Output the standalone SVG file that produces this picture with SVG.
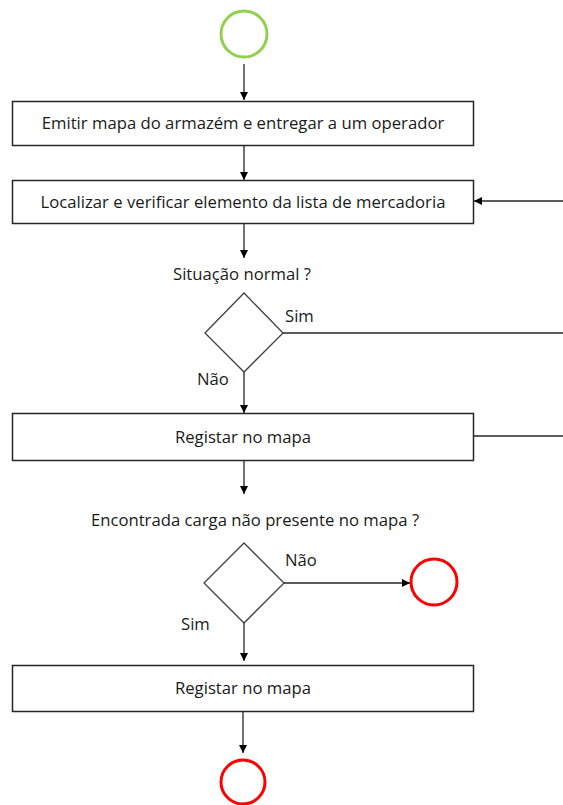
<svg xmlns="http://www.w3.org/2000/svg" width="563" height="805" viewBox="0 0 563 805">
  <style>
    .box { fill: #ffffff; stroke: #262626; stroke-width: 1.5; }
    .dia { fill: #ffffff; stroke: #404040; stroke-width: 1.3; }
    .edge { fill: none; stroke: #262626; stroke-width: 1.3; }
    .t { font-family: "Open Sans", "Noto Sans", sans-serif; font-size: 16.7px; fill: #1a1a1a; }
    .mid { text-anchor: middle; }
  </style>
  <defs>
    <marker id="arrow" viewBox="0 0 10 10" refX="10" refY="5" markerWidth="8" markerHeight="8" markerUnits="userSpaceOnUse" orient="auto">
      <path d="M0,0 L10,5 L0,10 Z" fill="#000000"/>
    </marker>
  </defs>
  <rect width="563" height="805" fill="#ffffff"/>

  <g id="connectors">
    <line class="edge" x1="244" y1="64" x2="244" y2="100" marker-end="url(#arrow)"/>
    <line class="edge" x1="244" y1="145" x2="244" y2="180" marker-end="url(#arrow)"/>
    <line class="edge" x1="563" y1="201" x2="474" y2="201" marker-end="url(#arrow)"/>
    <line class="edge" x1="244" y1="224" x2="244" y2="258" marker-end="url(#arrow)"/>
    <line class="edge" x1="283" y1="333" x2="563" y2="333"/>
    <line class="edge" x1="244" y1="372" x2="244" y2="413" marker-end="url(#arrow)"/>
    <line class="edge" x1="474" y1="436" x2="563" y2="436"/>
    <line class="edge" x1="244" y1="461" x2="244" y2="494" marker-end="url(#arrow)"/>
    <line class="edge" x1="284" y1="583" x2="410" y2="583" marker-end="url(#arrow)"/>
    <line class="edge" x1="244" y1="623" x2="244" y2="661" marker-end="url(#arrow)"/>
    <line class="edge" x1="243" y1="712" x2="243" y2="753" marker-end="url(#arrow)"/>
  </g>

  <g id="start">
    <circle cx="244" cy="34" r="23" fill="#ffffff" stroke="#92d050" stroke-width="3"/>
  </g>

  <g id="emitir">
    <rect class="box" x="12.5" y="101.5" width="461" height="44"/>
    <text class="t mid" x="243" y="129">Emitir mapa do armazém e entregar a um operador</text>
  </g>

  <g id="localizar">
    <rect class="box" x="12.5" y="180.5" width="461" height="43"/>
    <text class="t mid" x="243" y="208">Localizar e verificar elemento da lista de mercadoria</text>
  </g>

  <g id="situacao">
    <text class="t mid" x="242" y="280">Situação normal ?</text>
    <polygon class="dia" points="244,293 283,333 244,372 205,333"/>
    <text class="t" x="285" y="322">Sim</text>
    <text class="t" x="197" y="385">Não</text>
  </g>

  <g id="registar1">
    <rect class="box" x="12.5" y="413.5" width="461" height="47"/>
    <text class="t mid" x="243" y="443">Registar no mapa</text>
  </g>

  <g id="encontrada">
    <text class="t mid" x="255" y="526">Encontrada carga não presente no mapa ?</text>
    <polygon class="dia" points="244,543 284,583 244,623 204,583"/>
    <text class="t" x="285" y="566">Não</text>
    <text class="t" x="181" y="630">Sim</text>
  </g>

  <g id="end1">
    <circle cx="434" cy="582" r="23" fill="#ffffff" stroke="#ff0000" stroke-width="3"/>
  </g>

  <g id="registar2">
    <rect class="box" x="12.5" y="665.5" width="461" height="46"/>
    <text class="t mid" x="243" y="694">Registar no mapa</text>
  </g>

  <g id="end2">
    <circle cx="243" cy="782" r="22" fill="#ffffff" stroke="#ff0000" stroke-width="3"/>
  </g>
</svg>
